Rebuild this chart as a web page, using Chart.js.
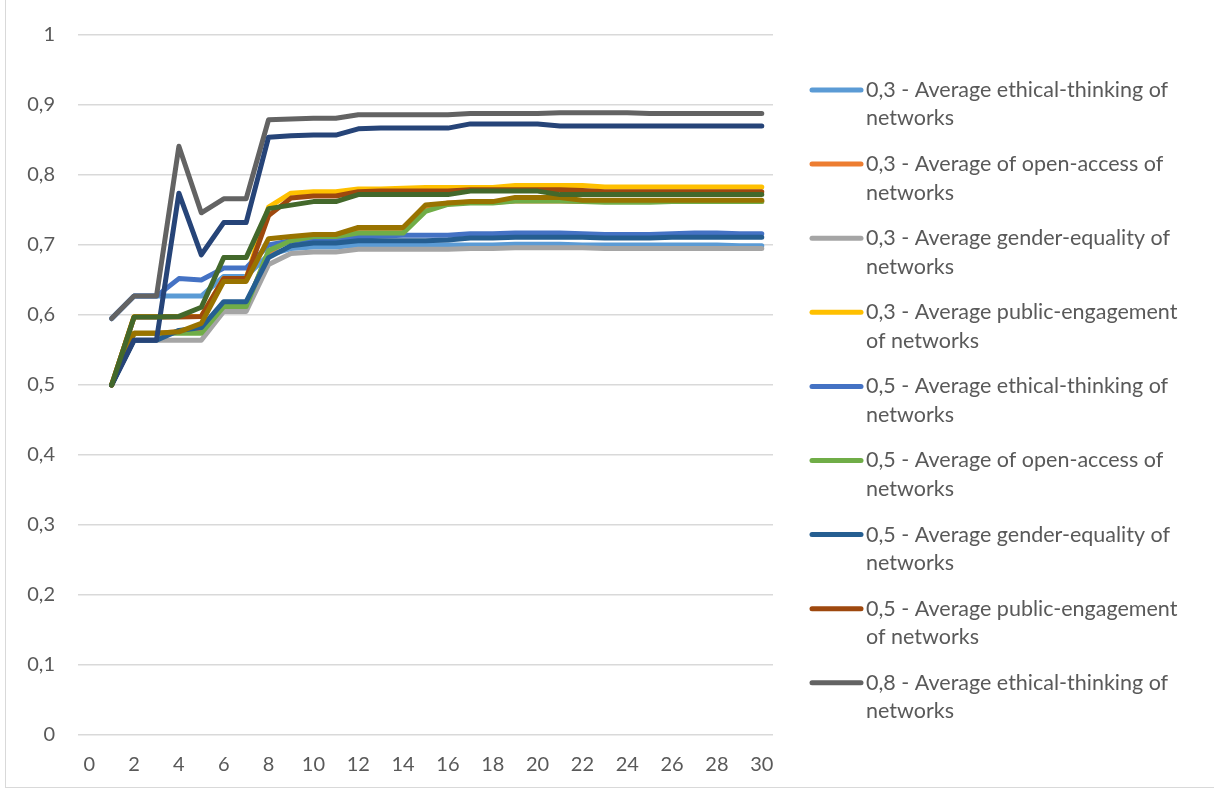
<!DOCTYPE html>
<html>
<head>
<meta charset="utf-8">
<script src="https://cdn.jsdelivr.net/npm/chart.js@4.4.1/dist/chart.umd.min.js"></script>
<style>
  html, body { margin: 0; padding: 0; background: #ffffff; }
  #wrap { position: relative; width: 1214px; height: 791px; }
</style>
</head>
<body>
<div id="wrap"><canvas id="chart" width="1214" height="791"></canvas></div>
<script>
// Iteration steps on the category axis (step 0 carries no data)
const categories = [0, 1, 2, 3, 4, 5, 6, 7, 8, 9, 10, 11, 12, 13, 14, 15, 16, 17, 18, 19, 20, 21, 22, 23, 24, 25, 26, 27, 28, 29, 30];
const xTickStep = 2;
const yTicks = [0, 0.1, 0.2, 0.3, 0.4, 0.5, 0.6, 0.7, 0.8, 0.9, 1];

// Series values for steps 1..30
const ethical03 = [0.595, 0.627, 0.627, 0.627, 0.627, 0.655, 0.655, 0.686, 0.695, 0.697, 0.697, 0.700, 0.700, 0.700, 0.700, 0.700, 0.700, 0.700, 0.701, 0.701, 0.701, 0.700, 0.700, 0.700, 0.700, 0.700, 0.700, 0.700, 0.699, 0.699];
const openAccess03 = [0.500, 0.574, 0.574, 0.576, 0.580, 0.612, 0.612, 0.690, 0.708, 0.712, 0.712, 0.720, 0.720, 0.720, 0.752, 0.760, 0.761, 0.761, 0.763, 0.763, 0.763, 0.762, 0.762, 0.762, 0.762, 0.762, 0.762, 0.762, 0.762, 0.762];
const gender03 = [0.500, 0.564, 0.564, 0.564, 0.564, 0.605, 0.605, 0.672, 0.688, 0.690, 0.690, 0.694, 0.694, 0.694, 0.694, 0.694, 0.695, 0.695, 0.696, 0.696, 0.696, 0.696, 0.695, 0.695, 0.695, 0.695, 0.695, 0.695, 0.695, 0.695];
const publicEng03 = [0.500, 0.598, 0.598, 0.598, 0.598, 0.652, 0.652, 0.754, 0.774, 0.776, 0.776, 0.780, 0.780, 0.781, 0.782, 0.782, 0.782, 0.782, 0.785, 0.785, 0.785, 0.785, 0.783, 0.783, 0.783, 0.783, 0.783, 0.783, 0.783, 0.783];
const ethical05 = [0.595, 0.627, 0.627, 0.652, 0.650, 0.667, 0.667, 0.700, 0.706, 0.708, 0.708, 0.711, 0.713, 0.714, 0.714, 0.714, 0.716, 0.716, 0.717, 0.717, 0.717, 0.716, 0.715, 0.715, 0.715, 0.716, 0.717, 0.717, 0.716, 0.716];
const openAccess05 = [0.500, 0.574, 0.574, 0.574, 0.574, 0.612, 0.612, 0.692, 0.706, 0.712, 0.712, 0.717, 0.717, 0.717, 0.748, 0.758, 0.760, 0.760, 0.763, 0.763, 0.763, 0.762, 0.761, 0.761, 0.761, 0.762, 0.762, 0.762, 0.762, 0.762];
const gender05 = [0.500, 0.564, 0.564, 0.578, 0.582, 0.619, 0.619, 0.682, 0.699, 0.703, 0.703, 0.706, 0.706, 0.706, 0.706, 0.707, 0.710, 0.710, 0.711, 0.711, 0.711, 0.711, 0.710, 0.710, 0.710, 0.711, 0.711, 0.711, 0.711, 0.711];
const publicEng05 = [0.500, 0.597, 0.597, 0.597, 0.598, 0.652, 0.652, 0.742, 0.767, 0.770, 0.770, 0.776, 0.777, 0.777, 0.777, 0.777, 0.779, 0.779, 0.779, 0.779, 0.779, 0.778, 0.776, 0.776, 0.776, 0.776, 0.776, 0.776, 0.776, 0.776];
const ethical08 = [0.595, 0.627, 0.627, 0.841, 0.746, 0.766, 0.766, 0.879, 0.880, 0.881, 0.881, 0.886, 0.886, 0.886, 0.886, 0.886, 0.888, 0.888, 0.888, 0.888, 0.889, 0.889, 0.889, 0.889, 0.888, 0.888, 0.888, 0.888, 0.888, 0.888];
const openAccess08 = [0.500, 0.574, 0.574, 0.576, 0.588, 0.648, 0.648, 0.709, 0.712, 0.715, 0.715, 0.725, 0.725, 0.725, 0.757, 0.760, 0.762, 0.762, 0.768, 0.768, 0.768, 0.764, 0.764, 0.764, 0.764, 0.764, 0.764, 0.764, 0.764, 0.764];
const gender08 = [0.500, 0.564, 0.564, 0.774, 0.686, 0.732, 0.732, 0.854, 0.856, 0.857, 0.857, 0.866, 0.867, 0.867, 0.867, 0.867, 0.873, 0.873, 0.873, 0.873, 0.870, 0.870, 0.870, 0.870, 0.870, 0.870, 0.870, 0.870, 0.870, 0.870];
const publicEng08 = [0.500, 0.597, 0.597, 0.598, 0.611, 0.682, 0.682, 0.752, 0.757, 0.762, 0.762, 0.772, 0.772, 0.772, 0.772, 0.772, 0.777, 0.777, 0.777, 0.777, 0.772, 0.772, 0.772, 0.772, 0.772, 0.772, 0.772, 0.772, 0.772, 0.772];

// Series names, split where the legend wraps them
const seriesNames = [
  ['0,3 - Average ethical-thinking of', 'networks'],
  ['0,3 - Average of open-access of', 'networks'],
  ['0,3 - Average gender-equality of', 'networks'],
  ['0,3 - Average public-engagement', 'of networks'],
  ['0,5 - Average ethical-thinking of', 'networks'],
  ['0,5 - Average of open-access of', 'networks'],
  ['0,5 - Average gender-equality of', 'networks'],
  ['0,5 - Average public-engagement', 'of networks'],
  ['0,8 - Average ethical-thinking of', 'networks'],
  ['0,8 - Average of open-access of', 'networks'],
  ['0,8 - Average gender-equality of', 'networks'],
  ['0,8 - Average public-engagement', 'of networks']
];
const seriesValues = [ethical03, openAccess03, gender03, publicEng03, ethical05, openAccess05, gender05, publicEng05, ethical08, openAccess08, gender08, publicEng08];
const seriesColors = ['#5B9BD5', '#ED7D31', '#A5A5A5', '#FFC000', '#4472C4', '#70AD47', '#255E91', '#9E480E', '#636363', '#997300', '#264478', '#43682B'];
// The side legend only has room for the first nine entries
const legendCount = 9;

const textColor = '#595959';
const fontFamily = 'Lato, "Open Sans", sans-serif';

const datasets = seriesValues.map((vals, i) => ({
  label: seriesNames[i].join(' '),
  data: [null].concat(vals),
  borderColor: seriesColors[i],
  backgroundColor: seriesColors[i],
  borderWidth: 5,
  pointRadius: 0,
  tension: 0,
  fill: false,
  borderJoinStyle: 'round',
  borderCapStyle: 'round',
  // later series are painted over earlier ones
  order: seriesValues.length - 1 - i
}));

const frame = {
  id: 'frame',
  beforeDraw(chart) {
    const ctx = chart.ctx;
    ctx.save();
    ctx.fillStyle = '#ffffff';
    ctx.fillRect(0, 0, chart.width, chart.height);
    ctx.strokeStyle = '#d9d9d9';
    ctx.lineWidth = 1;
    ctx.strokeRect(5.5, -5, chart.width + 10, chart.height + 1.5);
    ctx.restore();
  }
};

const sideLegend = {
  id: 'sideLegend',
  afterDraw(chart) {
    const ctx = chart.ctx;
    ctx.save();
    ctx.font = '21.5px ' + fontFamily;
    ctx.fillStyle = textColor;
    ctx.textBaseline = 'middle';
    ctx.textAlign = 'left';
    for (let k = 0; k < legendCount; k++) {
      const ds = chart.data.datasets[k];
      const y = 90 + k * 74.1;
      ctx.strokeStyle = ds.borderColor;
      ctx.lineWidth = 5;
      ctx.lineCap = 'round';
      ctx.beginPath();
      ctx.moveTo(812, y);
      ctx.lineTo(861, y);
      ctx.stroke();
      seriesNames[k].forEach((line, j) => ctx.fillText(line, 866, y + j * 28.5));
    }
    ctx.restore();
  }
};

new Chart(document.getElementById('chart'), {
  type: 'line',
  data: { labels: categories, datasets: datasets },
  options: {
    responsive: false,
    animation: false,
    devicePixelRatio: 1,
    layout: { padding: { left: 0, right: 441, top: 35, bottom: 0 } },
    plugins: {
      legend: { display: false },
      tooltip: { enabled: false }
    },
    scales: {
      x: {
        type: 'category',
        offset: true,
        grid: { display: false, drawTicks: false },
        border: { display: false },
        ticks: {
          autoSkip: false,
          maxRotation: 0,
          padding: 18,
          color: textColor,
          font: { family: fontFamily, size: 20 },
          callback: function (value, index) {
            const c = categories[index];
            return c % xTickStep === 0 ? String(c) : '';
          }
        },
        afterFit: function (scale) { scale.height = 56; }
      },
      y: {
        min: 0,
        max: 1,
        afterBuildTicks: function (scale) {
          scale.ticks = yTicks.map(v => ({ value: v }));
        },
        grid: { color: '#d9d9d9', lineWidth: 1.5, drawTicks: false },
        border: { display: false },
        ticks: {
          padding: 23,
          color: textColor,
          font: { family: fontFamily, size: 20 },
          callback: function (value) {
            return (Math.round(value * 10) / 10).toString().replace('.', ',');
          }
        },
        afterFit: function (scale) { scale.width = 78; }
      }
    }
  },
  plugins: [frame, sideLegend]
});
</script>
</body>
</html>
